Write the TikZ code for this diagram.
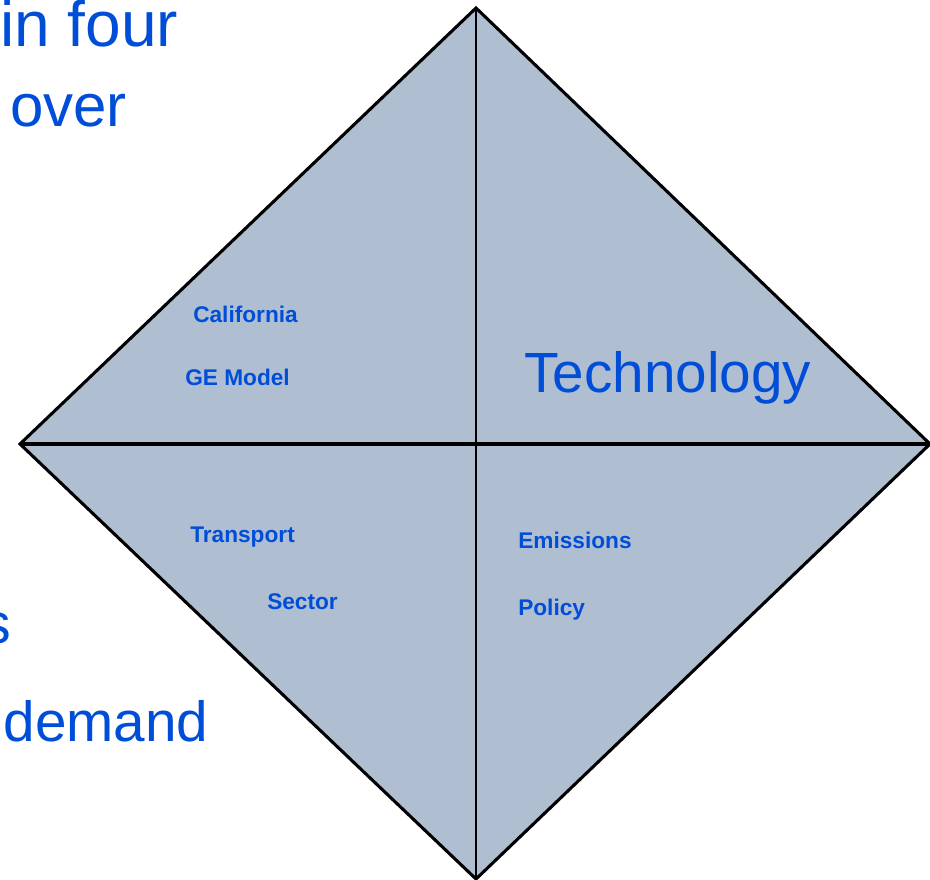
\documentclass[tikz,border=0pt]{standalone}
\usepackage{fontspec}
\setmainfont{Liberation Sans}
\definecolor{txtblue}{RGB}{0,78,216}
\definecolor{quadfill}{RGB}{176,190,210}
\begin{document}
\begin{tikzpicture}[x=0.75pt,y=-0.75pt,
  bigtext/.style={text=txtblue,inner sep=0pt,anchor=base west,font=\fontsize{44}{48}\selectfont},
  smalllabel/.style={text=txtblue,inner sep=0pt,anchor=base west,font=\fontsize{17}{20}\selectfont\bfseries},
  edge/.style={draw=black,line width=2.3pt,line join=miter},
  axisline/.style={draw=black,line width=3pt},
  divider/.style={draw=black,line width=1.1pt}]
\useasboundingbox (0,0) rectangle (930,880);
\clip (0,0) rectangle (930,880);

% slide text lying behind the diagram
\node[bigtext,font=\fontsize{48}{52}\selectfont] (l1) at (0,47) {in four};
\node[bigtext,font=\fontsize{45}{50}\selectfont] (l2) at (10,127) {over};
\node[bigtext,font=\fontsize{43}{48}\selectfont] (l3) at (-18,643) {s};
\node[bigtext,font=\fontsize{42.5}{48}\selectfont] (l4) at (-20.5,741) {/\kern6pt demand};

% the four quadrants
\coordinate (T) at (476,8);
\coordinate (L) at (20,444);
\coordinate (R) at (930,444);
\coordinate (B) at (476,879);
\fill[quadfill] (T) -- (R) -- (B) -- (L) -- cycle;
\draw[divider] (T) -- (B);
\draw[axisline] (L) -- (R);
\draw[edge] (T) -- (R) -- (B) -- (L) -- cycle;

% quadrant labels
\node[smalllabel] (cal) at (193,322) {California};
\node[smalllabel] (ge) at (185,385) {GE Model};
\node[bigtext,font=\fontsize{42.5}{48}\selectfont] (tech) at (524,392) {Technology};
\node[smalllabel] (tra) at (190,542) {Transport};
\node[smalllabel] (sec) at (267,609) {Sector};
\node[smalllabel] (emi) at (518,548) {Emissions};
\node[smalllabel] (pol) at (518,615) {Policy};
\end{tikzpicture}
\end{document}
